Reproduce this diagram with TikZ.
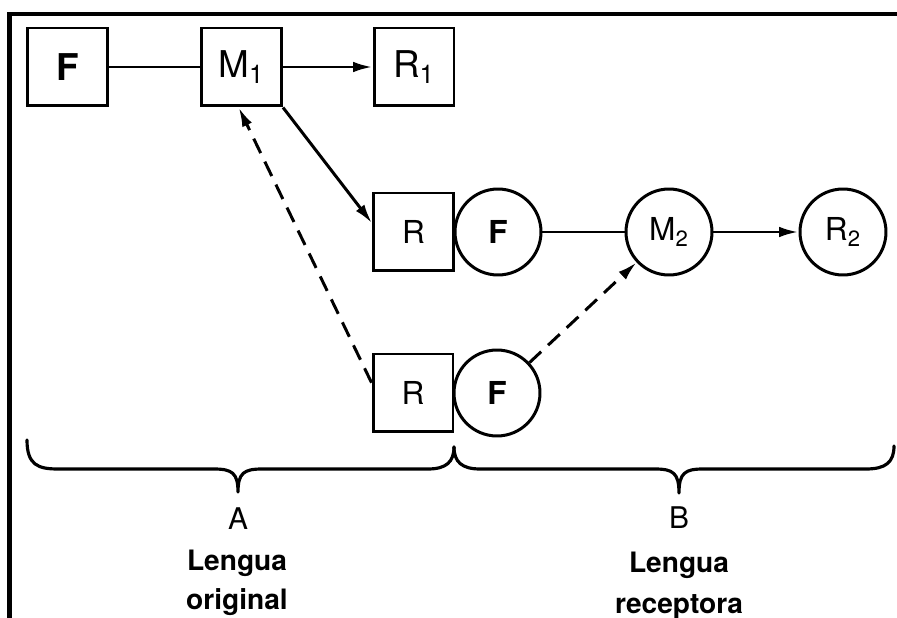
\documentclass[tikz,border=0pt]{standalone}
\usepackage{fontspec}
\setmainfont{TeX Gyre Heros}
\usetikzlibrary{arrows.meta,calc}

\begin{document}
\begin{tikzpicture}[x=0.02cm,y=-0.02cm,
  line width=1.7pt,
  boxnode/.style={draw,rectangle,minimum width=1.6cm,minimum height=1.56cm,inner sep=0pt},
  circnode/.style={draw,circle,minimum size=1.72cm,inner sep=0pt},
  toptext/.style={font=\fontsize{21}{24}\selectfont},
  rowtext/.style={font=\fontsize{18}{21}\selectfont},
  boldlabel/.style={font=\fontsize{21}{24}\selectfont\bfseries},
  boldrow/.style={font=\fontsize{18}{21}\selectfont\bfseries},
  plainlink/.style={line width=1.7pt},
  flow/.style={line width=1.7pt,-{Latex[length=11pt,width=6pt]}},
  dashflow/.style={line width=1.7pt,dash pattern=on 0.32cm off 0.19cm,-{Latex[length=11pt,width=6pt]}},
  bracestyle/.style={line width=1.8pt,line cap=round,line join=round},
  lettertext/.style={font=\fontsize{17}{19}\selectfont},
  langtext/.style={font=\fontsize{16}{19}\selectfont\bfseries}]

\useasboundingbox (0,0) rectangle (897,618);

% frame edges (left and top)
\draw[line width=2.3pt] (9.5,640) -- (9.5,14) -- (900,14);

% source language chain
\node[boxnode,boldlabel] (F1) at (67.5,67) {F};
\node[boxnode,toptext] (M1) at (241.5,67) {M\textsubscript{1}};
\node[boxnode,toptext] (R1) at (414,67) {R\textsubscript{1}};

% translator receiving the message
\node[boxnode,rowtext] (Rm) at (413.5,232) {R};
\node[circnode,boldrow] (Fm) at (498,232) {F};
\node[circnode,rowtext] (M2) at (669,232) {M\textsubscript{2}};
\node[circnode,rowtext] (R2) at (843,232) {R\textsubscript{2}};

% second receiver/source pair
\node[boxnode,rowtext] (Rl) at (413,393) {R};
\node[circnode,boldrow] (Fl) at (497,393) {F};

% connectors
\draw[plainlink] (F1) -- (M1);
\draw[flow] (M1) -- (R1);
\draw[flow] (M1.south east) -- (Rm.168);
\draw[dashflow] (Rl.166) -- (M1.266);
\draw[plainlink] (Fm) -- (M2);
\draw[flow] (M2) -- (R2);
\draw[dashflow] (Fl) -- (M2);

% braces grouping the two languages
\draw[bracestyle] (27,440) .. controls (27,465) and (38,469) .. (58,469)
  -- (214,469) .. controls (232,469) and (238,473) .. (238,492)
  .. controls (238,473) and (244,469) .. (262,469)
  -- (428,469) .. controls (446,469) and (454,462) .. (454,447);
\draw[bracestyle] (454,447) .. controls (454,462) and (462,469) .. (480,469)
  -- (655,469) .. controls (673,469) and (679,473) .. (679,493)
  .. controls (679,473) and (685,469) .. (703,469)
  -- (866,469) .. controls (886,469) and (894,462) .. (894,446);

\node[lettertext] (A) at (238,519) {A};
\node[langtext] (A1) at (237,563) {Lengua};
\node[langtext] (A2) at (237,602) {original};

\node[lettertext] (B) at (679,518) {B};
\node[langtext] (B1) at (679,565) {Lengua};
\node[langtext] (B2) at (679,607) {receptora};

\end{tikzpicture}
\end{document}
